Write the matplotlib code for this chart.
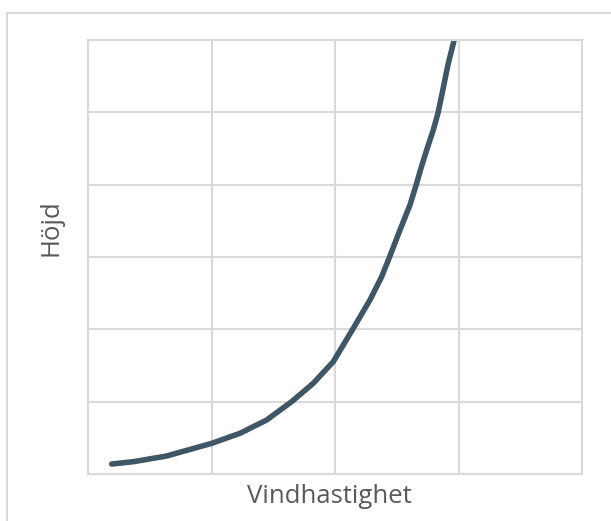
import matplotlib.pyplot as plt
from matplotlib.patches import Rectangle

# wind speed vs height (axis units: 4 x 6 grid cells)
speed = [0.192, 0.367, 0.637, 1.002, 1.231, 1.447, 1.649, 1.824, 1.986, 2.148,
         2.283, 2.378, 2.445, 2.526, 2.607, 2.661, 2.70, 2.75, 2.796, 2.834,
         2.872, 2.915, 2.965]
height = [0.138, 0.170, 0.249, 0.424, 0.563, 0.747, 1.000, 1.254, 1.553, 2.014,
          2.406, 2.728, 3.014, 3.373, 3.719, 4.019, 4.25, 4.52, 4.756, 4.99,
          5.30, 5.66, 6.0]

W, H = 611, 521
fig = plt.figure(figsize=(W / 100, H / 100), dpi=100)

# outer light border (runs off the right and bottom edges)
fig.patches.append(Rectangle((7 / W, -0.1), 1.2, 1 - 13 / H + 0.1, transform=fig.transFigure,
                             fill=False, edgecolor="#d9d9d9", linewidth=1.5))

ax = fig.add_axes([88 / W, 1 - 474 / H, (582 - 88) / W, (474 - 40) / H])
ax.plot(speed, height, color="#3f5666", linewidth=4, solid_capstyle="round",
        solid_joinstyle="round")
ax.set_xlim(0, 4)
ax.set_ylim(0, 6)
ax.set_xticks([0, 1, 2, 3, 4])
ax.set_yticks([0, 1, 2, 3, 4, 5, 6])
ax.tick_params(length=0, labelbottom=False, labelleft=False)
ax.grid(True, color="#d9d9d9", linewidth=1.5)
ax.set_axisbelow(True)
for s in ax.spines.values():
    s.set_color("#d9d9d9")
    s.set_linewidth(1.5)

ax.set_xlabel("Vindhastighet", fontsize=18.5, color="#595959", family="Open Sans")
ax.set_ylabel("Höjd", fontsize=18.5, color="#595959", family="Open Sans")
ax.xaxis.label.set(va="baseline")
ax.yaxis.label.set(va="baseline")
ax.xaxis.set_label_coords((329 - 88) / 494, (474 - 503) / 434)
ax.yaxis.set_label_coords((57 - 88) / 494, (474 - 228) / 434)

fig.savefig("out.png", dpi=100)
